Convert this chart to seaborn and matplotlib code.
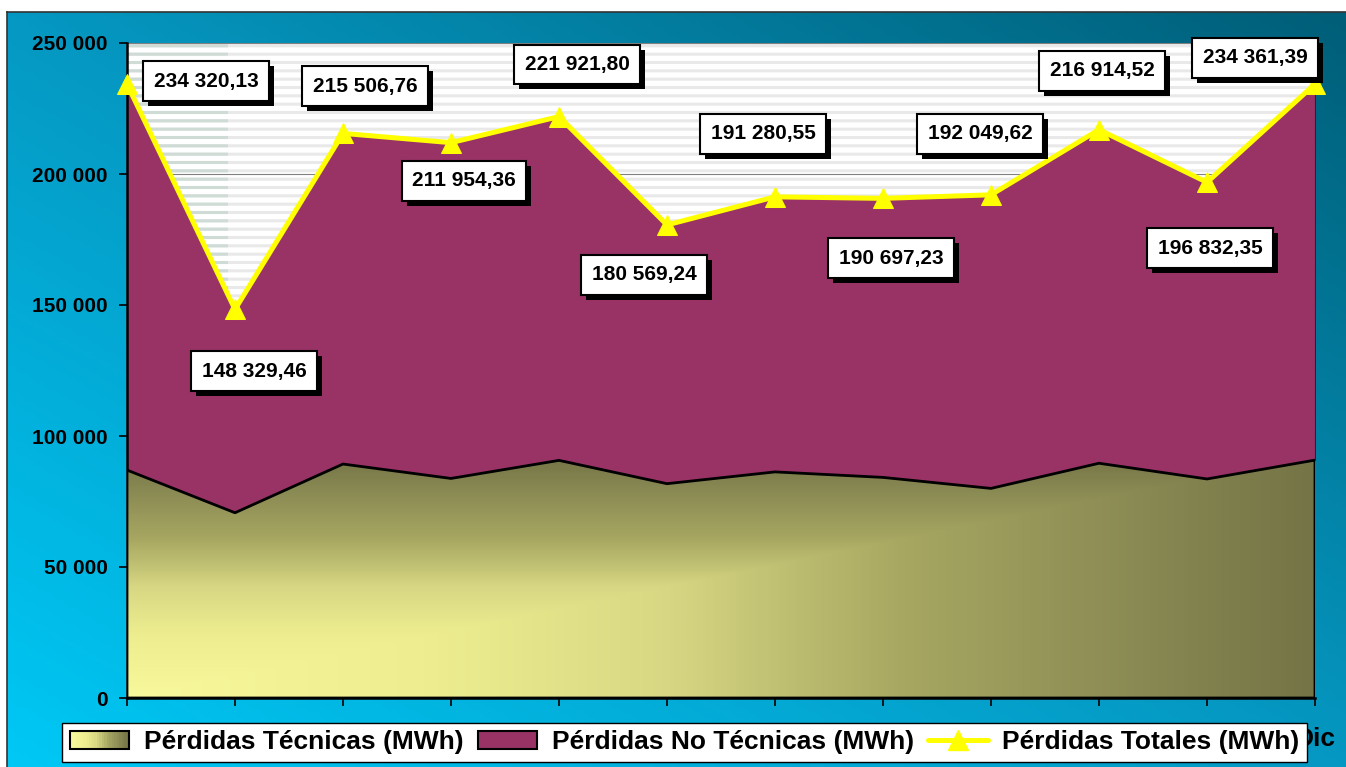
import numpy as np
import matplotlib
matplotlib.use("Agg")
import matplotlib.pyplot as plt
import matplotlib.patheffects as pe
from matplotlib.colors import LinearSegmentedColormap
from matplotlib.patches import Rectangle
from matplotlib.lines import Line2D
from matplotlib.legend_handler import HandlerBase
from matplotlib.ticker import FuncFormatter
import seaborn as sns

# Data (MWh)
meses = ["Ene", "Feb", "Mar", "Abr", "May", "Jun", "Jul", "Ago", "Sep", "Oct", "Nov", "Dic"]
perdidas_tecnicas = [87000, 70700, 89300, 83800, 90700, 81800, 86300, 84200, 80000, 89600, 83600, 90800]
perdidas_totales = [234320.13, 148329.46, 215506.76, 211954.36, 221921.80, 180569.24,
                    191280.55, 190697.23, 192049.62, 216914.52, 196832.35, 234361.39]
# label box offsets from each point (pixels)
label_offsets = [(79, 3), (19, -62), (22, 47), (13, -38), (18, 52), (-23, -50),
                 (-12, 63), (8, -60), (-11, 61), (3, 59), (3, -66), (-60, 26)]

sns.set_style("white")
plt.rcParams["font.family"] = ["Liberation Sans", "DejaVu Sans"]
plt.rcParams["font.weight"] = "bold"
plt.rcParams["text.color"] = "black"
plt.rcParams["xtick.color"] = "black"
plt.rcParams["ytick.color"] = "black"
plt.rcParams["xtick.labelcolor"] = "black"
plt.rcParams["ytick.labelcolor"] = "black"
plt.rcParams["hatch.linewidth"] = 2.2

x = np.arange(len(meses))
tec = np.array(perdidas_tecnicas, dtype=float)
tot = np.array(perdidas_totales, dtype=float)

W, H = 1346, 767
fig = plt.figure(figsize=(W / 100, H / 100), dpi=100, facecolor="white")

# background gradient (chart area)
bg = fig.add_axes([7 / W, 0, 1 - 7 / W, 1 - 12 / H], zorder=-10)
bg_cmap = LinearSegmentedColormap.from_list("bg", [(0, "#00C8F5"), (0.5, "#0598C2"), (1, "#005E78")])
gu, gv = np.meshgrid(np.linspace(0, 1, 300), np.linspace(0, 1, 200))
bg.imshow((gu + gv) / 2, cmap=bg_cmap, extent=[0, 1, 0, 1], origin="lower", aspect="auto")
bg.set_xticks([])
bg.set_yticks([])
for s in ["right", "bottom"]:
    bg.spines[s].set_visible(False)
for s in ["left", "top"]:
    bg.spines[s].set_color("#333333")
    bg.spines[s].set_linewidth(1.2)

ax = fig.add_axes([127 / W, 1 - 698 / H, (1315 - 127) / W, (698 - 43) / H])
ax.set_facecolor("none")
ax.set_xlim(0, 11)
ax.set_ylim(0, 250000)

# plot area: white with light horizontal stripes
ax.add_patch(Rectangle((0, 0), 1, 1, transform=ax.transAxes, facecolor="white",
                       edgecolor="#e9e9e9", hatch="--", lw=0, zorder=0.1))
ax.add_patch(Rectangle((0, 0), 0.085, 1, transform=ax.transAxes, facecolor="none",
                       edgecolor="#cfdcd6", hatch="--", lw=0, zorder=0.2))

ax.set_axisbelow(True)
ax.yaxis.grid(True, color="#808080", lw=0.8)
ax.set_yticks(np.arange(0, 250001, 50000))
ax.yaxis.set_major_formatter(FuncFormatter(lambda v, p: f"{int(v):,}".replace(",", " ")))

# stacked areas
ax.fill_between(x, tec, tot, facecolor="#993366", edgecolor="#3a1830", lw=0.8, zorder=2)
poly = ax.fill_between(x, 0, tec, facecolor="none", edgecolor="black", lw=2, zorder=3.5)

tec_cmap = LinearSegmentedColormap.from_list(
    "tec", [(0, "#F8F89C"), (0.25, "#EEEE90"), (0.45, "#D8D884"), (0.65, "#A8A862"),
            (0.85, "#8A8A54"), (1, "#747446")])
u, v = np.meshgrid(np.linspace(0, 1, 400), np.linspace(0, 1, 300))
grad = np.clip(np.maximum(u, 2.7 * v), 0, 1)
im = ax.imshow(grad, cmap=tec_cmap, vmin=0, vmax=1, extent=[0, 11, 0, 250000],
               origin="lower", aspect="auto", zorder=3)
im.set_clip_path(poly.get_paths()[0], transform=ax.transData)

# totals line
sns.lineplot(x=x, y=tot, ax=ax, color="#FFFF00", lw=3.6, marker="^", markersize=15,
             markeredgecolor="#FFFF00", zorder=5, clip_on=False)

for xi, val, off in zip(x, tot, label_offsets):
    txt = f"{val:,.2f}".replace(",", " ").replace(".", ",")
    ann = ax.annotate(txt, (xi, val), xytext=off, textcoords="offset pixels",
                      ha="center", va="center", fontsize=15, fontweight="bold", color="black",
                      zorder=6, annotation_clip=False,
                      bbox=dict(boxstyle="square,pad=0.5", fc="white", ec="black", lw=1.5))
    ann.get_bbox_patch().set_path_effects(
        [pe.withSimplePatchShadow(offset=(3.6, -3.6), shadow_rgbFace="black", alpha=1)])

ax.set_xticks(x)
ax.set_xticklabels(meses)
ax.tick_params(axis="x", length=6, width=1.2, color="black", pad=15, labelsize=19, bottom=True)
ax.tick_params(axis="y", length=6, width=1.2, color="black", pad=8, labelsize=15, left=True)
ax.set_xlabel("")
ax.set_ylabel("")
for s in ["top", "right"]:
    ax.spines[s].set_visible(False)
for s in ["left", "bottom"]:
    ax.spines[s].set_color("black")
    ax.spines[s].set_linewidth(1.8)


class GradientHandler(HandlerBase):
    def create_artists(self, legend, orig_handle, xdescent, ydescent, width, height, fontsize, trans):
        arts = []
        n = 24
        for i in range(n):
            arts.append(Rectangle((-xdescent + i * width / n, -ydescent), width / n * 1.05, height,
                                  facecolor=tec_cmap(i / (n - 1)), lw=0, transform=trans))
        arts.append(Rectangle((-xdescent, -ydescent), width, height, fill=False,
                              edgecolor="black", lw=1.5, transform=trans))
        return arts


h_tec = Rectangle((0, 0), 1, 1)
h_no = Rectangle((0, 0), 1, 1, facecolor="#993366", edgecolor="black", lw=1.5)
h_tot = Line2D([], [], color="#FFFF00", lw=3.6, marker="^", markersize=15)
leg = fig.legend([h_tec, h_no, h_tot],
                 ["Pérdidas Técnicas (MWh)", "Pérdidas No Técnicas (MWh)", "Pérdidas Totales (MWh)"],
                 handler_map={h_tec: GradientHandler()}, ncol=3, loc="center",
                 bbox_to_anchor=((62 + 1307) / 2 / W, 1 - 742.5 / H),
                 prop={"size": 19, "weight": "bold"}, frameon=True, fancybox=False,
                 framealpha=1, edgecolor="black", facecolor="white", borderpad=0.3,
                 handlelength=2.25, handleheight=0.65, handletextpad=0.55, columnspacing=0.55,
                 borderaxespad=0, labelcolor="black")
leg.get_frame().set_linewidth(1.0)

fig.savefig("out.png", dpi=100, facecolor="white")
